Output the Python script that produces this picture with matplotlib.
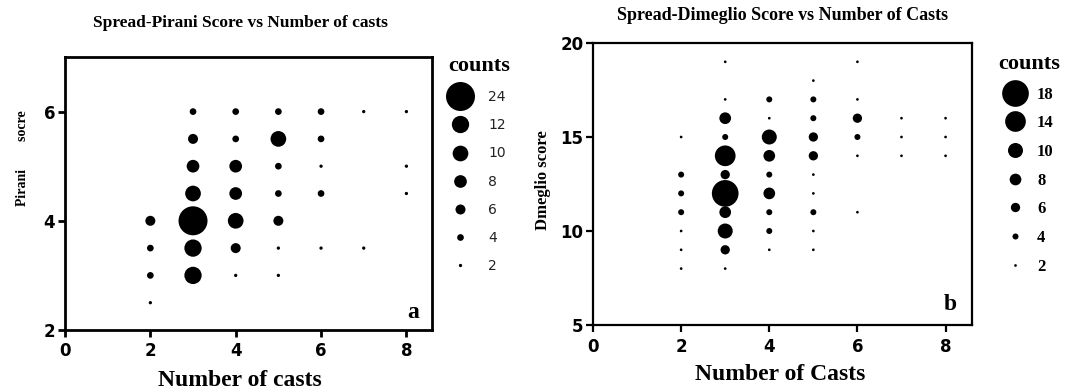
import numpy as np
import matplotlib
matplotlib.use("Agg")
import matplotlib.pyplot as plt
from matplotlib.lines import Line2D

# ---------------- data: panel a (Pirani) ----------------
pir_x = [2, 2, 2, 2,
         3, 3, 3, 3, 3, 3, 3,
         4, 4, 4, 4, 4, 4, 4,
         5, 5, 5, 5, 5, 5, 5,
         6, 6, 6, 6, 6,
         7, 7,
         8, 8, 8]
pir_y = [4, 3.5, 3, 2.5,
         6, 5.5, 5, 4.5, 4, 3.5, 3,
         6, 5.5, 5, 4.5, 4, 3.5, 3,
         6, 5.5, 5, 4.5, 4, 3.5, 3,
         6, 5.5, 5, 4.5, 3.5,
         6, 3.5,
         6, 5, 4.5]
pir_counts = [6, 4, 4, 2,
              4, 6, 8, 10, 24, 12, 12,
              4, 4, 8, 8, 10, 6, 2,
              4, 10, 4, 4, 6, 2, 2,
              4, 4, 2, 4, 2,
              2, 2,
              2, 2, 2]
pir_legend_counts = [24, 12, 10, 8, 6, 4, 2]

# ---------------- data: panel b (Dimeglio) ----------------
dim_x = [2, 2, 2, 2, 2, 2, 2,
         3, 3, 3, 3, 3, 3, 3, 3, 3, 3, 3,
         4, 4, 4, 4, 4, 4, 4, 4, 4,
         5, 5, 5, 5, 5, 5, 5, 5, 5, 5,
         6, 6, 6, 6, 6, 6,
         7, 7, 7,
         8, 8, 8]
dim_y = [15, 13, 12, 11, 10, 9, 8,
         19, 17, 16, 15, 14, 13, 12, 11, 10, 9, 8,
         17, 16, 15, 14, 13, 12, 11, 10, 9,
         18, 17, 16, 15, 14, 13, 12, 11, 10, 9,
         19, 17, 16, 15, 14, 11,
         16, 15, 14,
         16, 15, 14]
dim_counts = [2, 4, 4, 4, 2, 2, 2,
              2, 2, 8, 4, 14, 6, 18, 8, 10, 6, 2,
              4, 2, 10, 8, 4, 8, 4, 4, 2,
              2, 4, 4, 6, 6, 2, 2, 4, 2, 2,
              2, 2, 6, 4, 2, 2,
              2, 2, 2,
              2, 2, 2]
dim_legend_counts = [18, 14, 10, 8, 6, 4, 2]

x_ticks = [0, 2, 4, 6, 8]
pir_yticks = [2, 4, 6]
dim_yticks = [5, 10, 15, 20]

# ---------------- style: marker diameter (px) per count ----------------
pir_size_counts = [2, 4, 6, 8, 10, 12, 24]
pir_size_diam = [3.3, 6.7, 10.0, 12.7, 15.7, 17.3, 29.0]
dim_size_counts = [2, 4, 6, 8, 10, 14, 18]
dim_size_diam = [2.7, 6.0, 9.3, 11.7, 15.0, 20.7, 26.7]

DPI = 100
PX2PT = 72.0 / DPI


def diam_pt(c, sc, sd):
    return np.interp(c, sc, sd) * PX2PT


SERIF = "Liberation Serif"
SANS = "DejaVu Sans"

fig = plt.figure(figsize=(10.83, 3.91), dpi=DPI)
W, H = 1083.0, 391.0


def px_axes(l, t, r, b):
    return fig.add_axes([l / W, 1 - b / H, (r - l) / W, (b - t) / H])


axA = px_axes(65, 57, 432, 330)
axB = px_axes(593, 43, 972, 325)


def style_axes(ax, ylim, yticks, lw):
    ax.set_xlim(0, 8.6)
    ax.set_ylim(*ylim)
    ax.set_xticks(x_ticks)
    ax.set_yticks(yticks)
    for s in ax.spines.values():
        s.set_linewidth(lw)
        s.set_color("black")
    ax.tick_params(direction="out", length=5, width=lw, colors="black")
    ax.tick_params(axis="x", pad=4)
    ax.tick_params(axis="y", pad=2)
    for lab in ax.get_xticklabels() + ax.get_yticklabels():
        lab.set_fontfamily(SANS)
        lab.set_fontweight("bold")
        lab.set_fontsize(12)


# ---------- panel a ----------
sA = diam_pt(np.array(pir_counts), pir_size_counts, pir_size_diam) ** 2
axA.scatter(pir_x, pir_y, s=sA, c="black", linewidths=0, zorder=3)
style_axes(axA, (2, 7), pir_yticks, 2.0)

fig.text(240 / W, 1 - 23 / H, "Spread-Pirani Score vs Number of casts",
         family=SERIF, weight="bold", fontsize=12.5, ha="center", va="center")
axA.set_xlabel("Number of casts", family=SERIF, weight="bold", fontsize=17)
axA.xaxis.set_label_coords((240 - 65) / 367, (330 - 380) / 273)
axA.xaxis.label.set_va("center")
axA.set_ylabel("Pirani        socre", family=SERIF, weight="bold", fontsize=10)
axA.yaxis.set_label_coords((22 - 65) / 367, (330 - 158.5) / 273)
axA.yaxis.label.set_va("center")
axA.text((413 - 65) / 367, (330 - 313) / 273, "a", transform=axA.transAxes,
         family=SERIF, weight="bold", fontsize=17, ha="center", va="center")

hA = [Line2D([], [], marker="o", linestyle="", color="black", markeredgewidth=0,
             markersize=diam_pt(c, pir_size_counts, pir_size_diam))
      for c in pir_legend_counts]
legA = axA.legend(hA, [str(c) for c in pir_legend_counts], title="counts",
                  loc="upper left", bbox_to_anchor=(448 / W, 1 - 56 / H),
                  bbox_transform=fig.transFigure, frameon=False,
                  borderpad=0, borderaxespad=0, handlelength=1.73,
                  handletextpad=1.15, labelspacing=1.02,
                  prop={"family": SANS, "size": 10},
                  title_fontproperties={"family": SERIF, "weight": "bold", "size": 16},
                  alignment="left")
for t in legA.get_texts():
    t.set_color("#222222")

# ---------- panel b ----------
sB = diam_pt(np.array(dim_counts), dim_size_counts, dim_size_diam) ** 2
axB.scatter(dim_x, dim_y, s=sB, c="black", linewidths=0, zorder=3)
style_axes(axB, (5, 20), dim_yticks, 1.6)

fig.text(783 / W, 1 - 15 / H, "Spread-Dimeglio Score vs Number of Casts",
         family=SERIF, weight="bold", fontsize=13, ha="center", va="center")
axB.set_xlabel("Number of Casts", family=SERIF, weight="bold", fontsize=17)
axB.xaxis.set_label_coords((780 - 593) / 379, (325 - 374) / 282)
axB.xaxis.label.set_va("center")
axB.set_ylabel("Dmeglio score", family=SERIF, weight="bold", fontsize=12)
axB.yaxis.set_label_coords((543 - 593) / 379, (325 - 180) / 282)
axB.yaxis.label.set_va("center")
axB.text((950 - 593) / 379, (325 - 305) / 282, "b", transform=axB.transAxes,
         family=SERIF, weight="bold", fontsize=17, ha="center", va="center")

hB = [Line2D([], [], marker="o", linestyle="", color="black", markeredgewidth=0,
             markersize=diam_pt(c, dim_size_counts, dim_size_diam))
      for c in dim_legend_counts]
legB = axB.legend(hB, [str(c) for c in dim_legend_counts], title="counts",
                  loc="upper left", bbox_to_anchor=(998 / W, 1 - 54 / H),
                  bbox_transform=fig.transFigure, frameon=False,
                  borderpad=0, borderaxespad=0, handlelength=2.04,
                  handletextpad=0.3, labelspacing=0.76,
                  prop={"family": SERIF, "weight": "bold", "size": 12},
                  title_fontproperties={"family": SERIF, "weight": "bold", "size": 16},
                  alignment="left")

fig.savefig("out.png", dpi=DPI)
